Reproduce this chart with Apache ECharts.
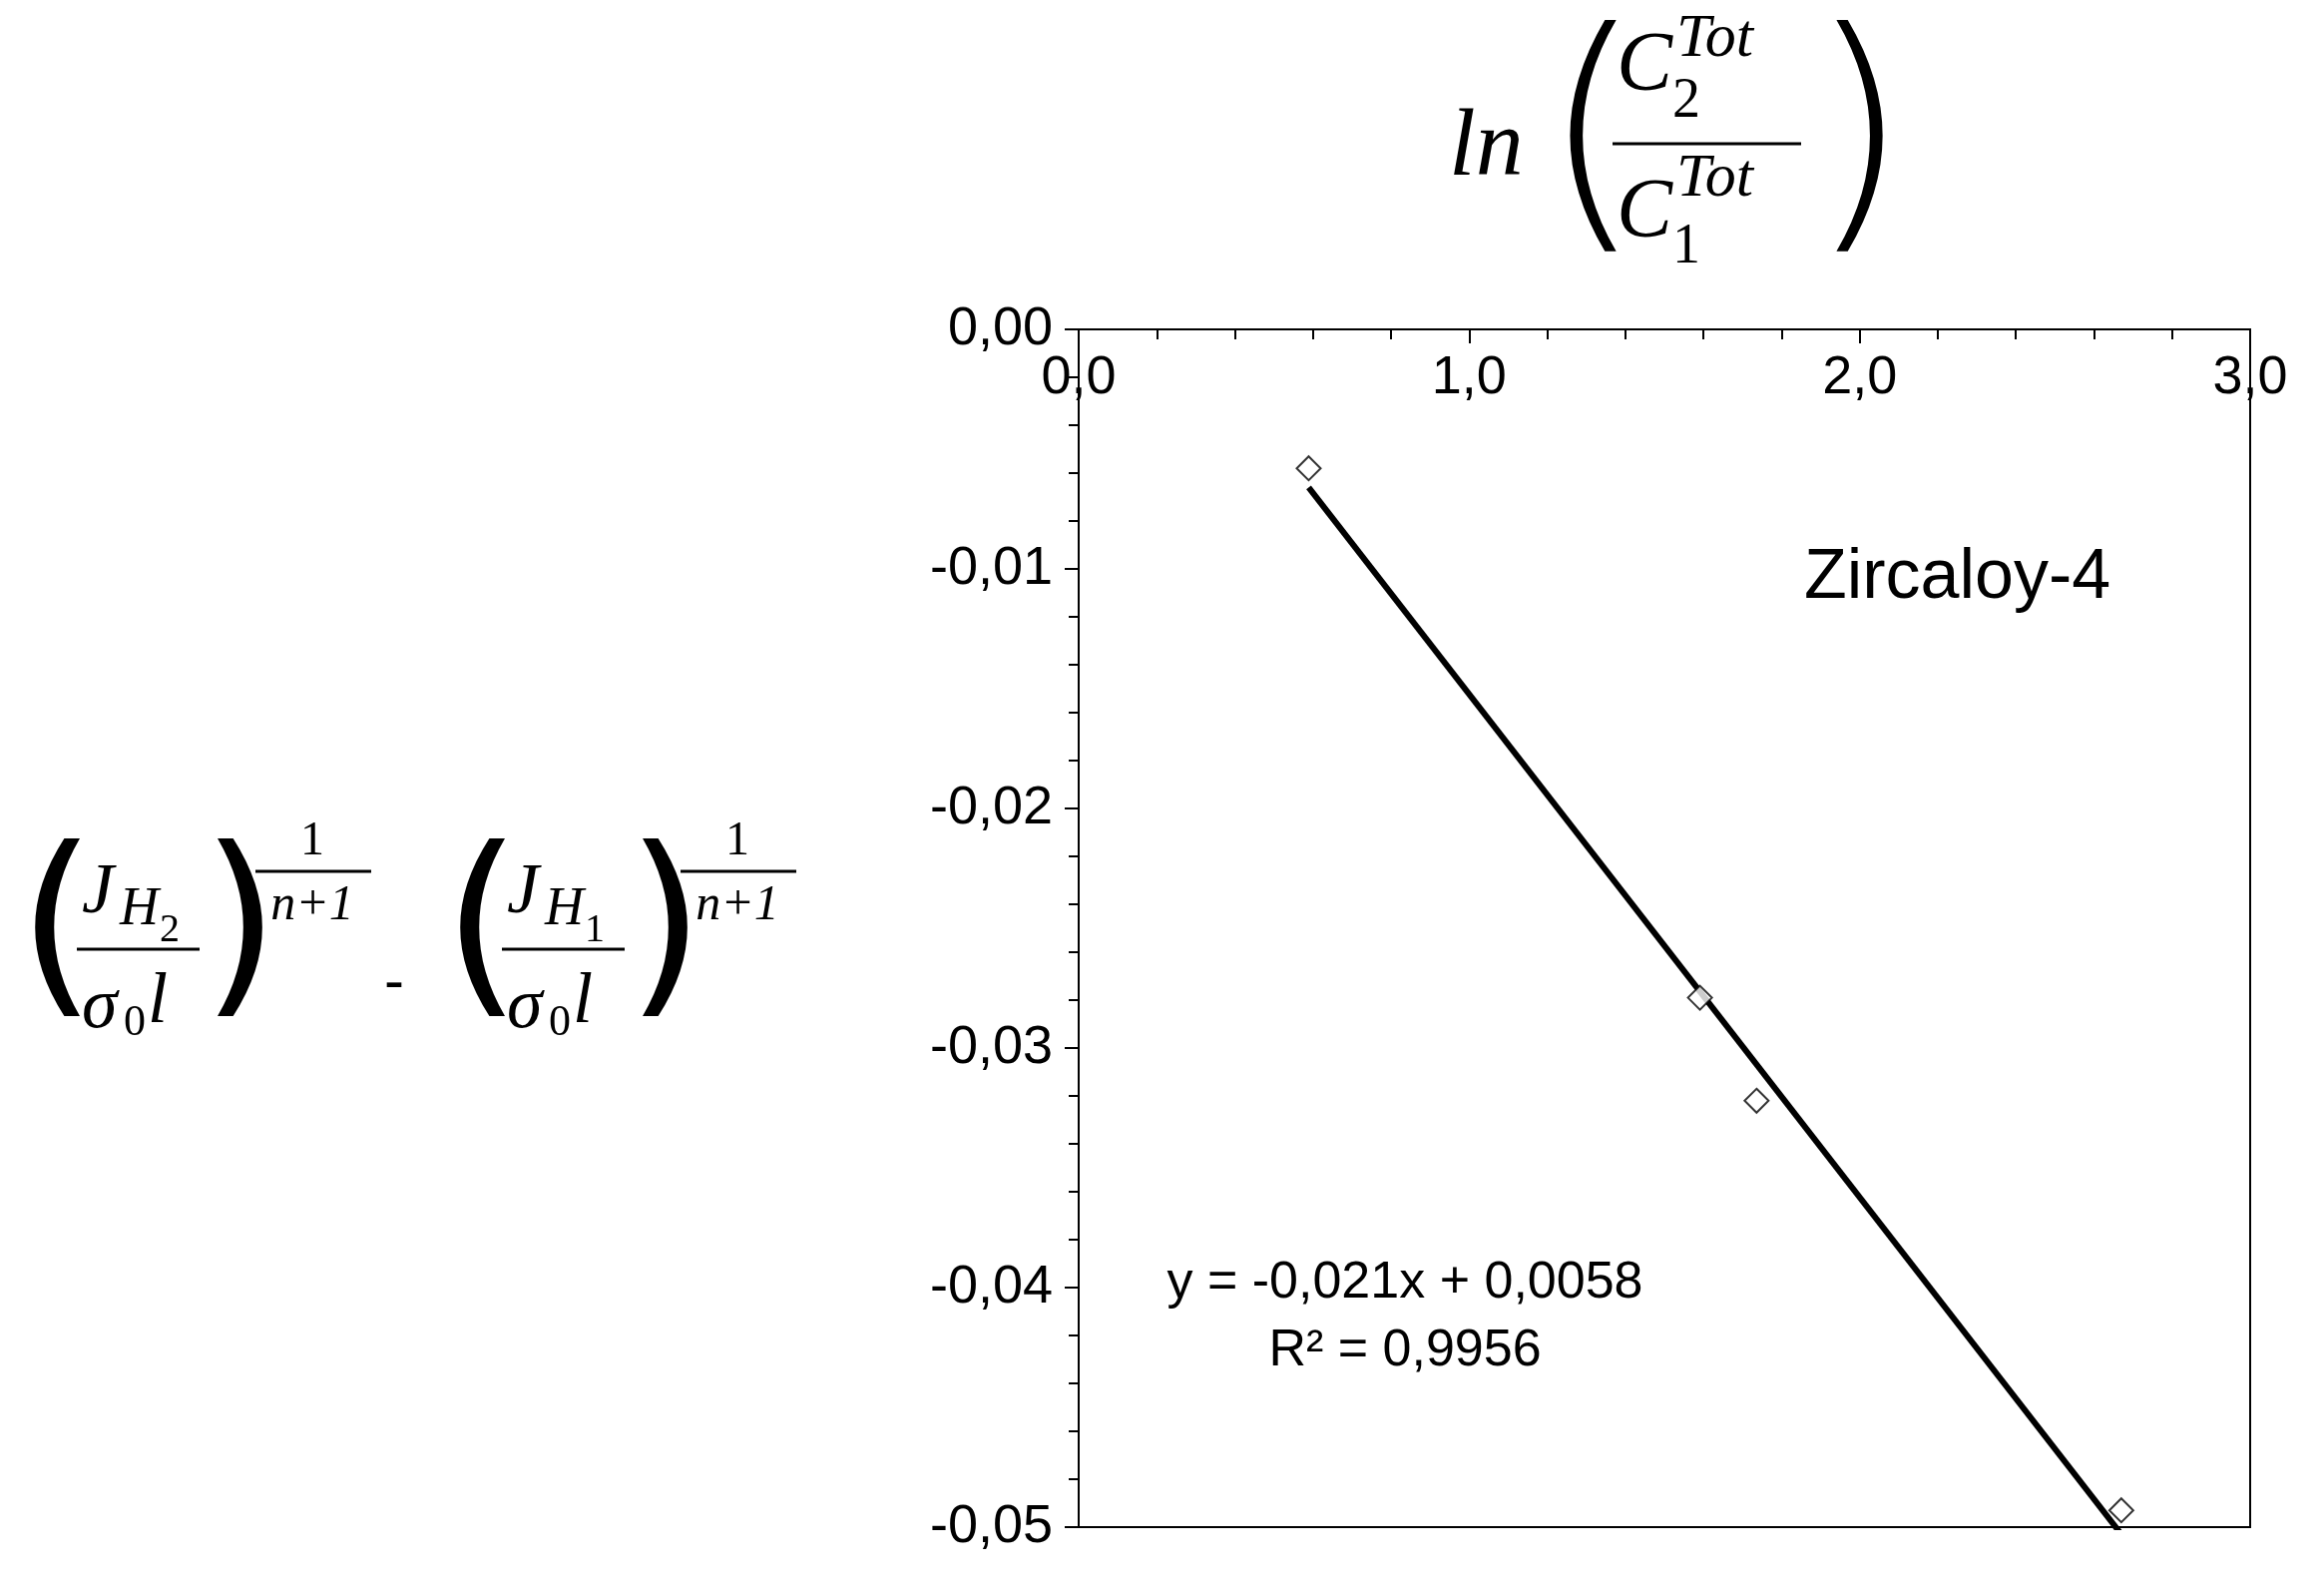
<!DOCTYPE html>
<html><head><meta charset="utf-8">
<script src="https://cdn.jsdelivr.net/npm/echarts@6/dist/echarts.min.js"></script>
<style>html,body{margin:0;padding:0;background:#fff}#c{width:2329px;height:1596px}</style>
</head><body><div id="c"></div>
<script>
const pointsX = [0.589, 1.591, 1.736, 2.67];
const pointsY = [-0.0058, -0.0279, -0.0322, -0.0493];
const trendX = [0.589, 2.67];
const trendY = [-0.0066, -0.0503];
const xTicks = [0, 1, 2, 3];
const yTicks = [0, -0.01, -0.02, -0.03, -0.04, -0.05];
const eqText = 'y = -0,021x + 0,0058';
const r2Text = 'R² = 0,9956';
const label = 'Zircaloy-4';

const serif = 'Liberation Serif';
function t(x, y, s, size, opt) {
  opt = opt || {};
  return {type:'text', x:x, y:y, style:{text:s, fontSize:size, fontFamily:opt.ff||serif,
    fontStyle:opt.it===false?'normal':'italic', fontWeight:opt.fw||'normal', fill:'#000', align:opt.align||'left', verticalAlign:'middle'}};
}
function ln(x1,y,x2,w){return {type:'line', shape:{x1:x1,y1:y,x2:x2,y2:y}, style:{stroke:'#000', lineWidth:w||3}};}
const g = [];
// top formula
g.push(t(1452,150,'ln',96));
g.push(t(1545,150,'(',260,{it:false,ff:'DejaVu Sans',fw:'lighter'}));
g.push(t(1620,68,'C',84));
g.push(t(1680,40,'Tot',62));
g.push(t(1676,102,'2',56,{it:false}));
g.push(ln(1616,144,1805,3));
g.push(t(1620,215,'C',84));
g.push(t(1680,180,'Tot',62));
g.push(t(1676,248,'1',56,{it:false}));
g.push(t(1812,150,')',260,{it:false,ff:'DejaVu Sans',fw:'lighter'}));
// left formula
function group(off, sub) {
  g.push(t(18+off,940,'(',200,{it:false,ff:'DejaVu Sans'}));
  g.push(t(82+off,895,'J',72));
  g.push(t(120+off,912,'H',54));
  g.push(t(160+off,932,sub,40,{it:false}));
  g.push(ln(77+off,951,200+off,3));
  g.push(t(82+off,1010,'σ',72));
  g.push(t(124+off,1025,'0',44,{it:false}));
  g.push(t(148+off,1005,'l',72));
  g.push(t(202+off,940,')',200,{it:false,ff:'DejaVu Sans'}));
  g.push(t(313+off,843,'1',48,{it:false,align:'center'}));
  g.push(ln(256+off,873,372+off,3));
  g.push(t(313+off,908,'n+1',50,{align:'center'}));
}
group(0,'2');
g.push(t(395,985,'-',60,{it:false,ff:'Liberation Sans',align:'center'}));
group(426,'1');
g.push({type:'text', left:1808, top:545, style:{text:label, fontSize:70, fontFamily:'Liberation Sans', fill:'#000'}});
g.push({type:'text', x:1408, y:1286, style:{text:eqText, fontSize:52, fontFamily:'Liberation Sans', fill:'#000', align:'center', verticalAlign:'middle'}});
g.push({type:'text', x:1408, y:1354, style:{text:r2Text, fontSize:52, fontFamily:'Liberation Sans', fill:'#000', align:'center', verticalAlign:'middle'}});

const chart = echarts.init(document.getElementById('c'));
chart.setOption({
  animation:false,
  grid:{left:1081, top:330, width:1174, height:1200, show:true, borderColor:'#000', borderWidth:2, containLabel:false},
  xAxis:{type:'value', position:'top', min:xTicks[0], max:xTicks[xTicks.length-1], interval:1,
    axisLine:{show:true, lineStyle:{color:'#000', width:2}},
    axisTick:{show:true, inside:true, length:14, lineStyle:{color:'#000', width:2}},
    minorTick:{show:true, splitNumber:5, length:10, lineStyle:{color:'#000', width:2}},
    splitLine:{show:false},
    axisLabel:{inside:true, margin:22, fontSize:54, fontFamily:'Liberation Sans', color:'#000',
      formatter:v=>v.toFixed(1).replace('.',',')}},
  yAxis:{type:'value', min:yTicks[yTicks.length-1], max:yTicks[0], interval:0.01,
    axisLine:{show:true, lineStyle:{color:'#000', width:2}},
    axisTick:{show:true, length:14, lineStyle:{color:'#000', width:2}},
    minorTick:{show:true, splitNumber:5, length:10, lineStyle:{color:'#000', width:2}},
    splitLine:{show:false},
    axisLabel:{margin:26, fontSize:54, fontFamily:'Liberation Sans', color:'#000',
      formatter:v=>v.toFixed(2).replace('.',',')}},
  series:[
    {type:'line', data:trendX.map((x,i)=>[x,trendY[i]]), symbol:'none', lineStyle:{color:'#000', width:6}, z:2},
    {type:'scatter', data:pointsX.map((x,i)=>[x,pointsY[i]]), symbol:'path://M0,-1L1,0L0,1L-1,0Z', symbolSize:24,
      itemStyle:{color:'#fff', borderColor:'#000', borderWidth:2}, z:3}
  ],
  graphic:g
});
</script></body></html>
